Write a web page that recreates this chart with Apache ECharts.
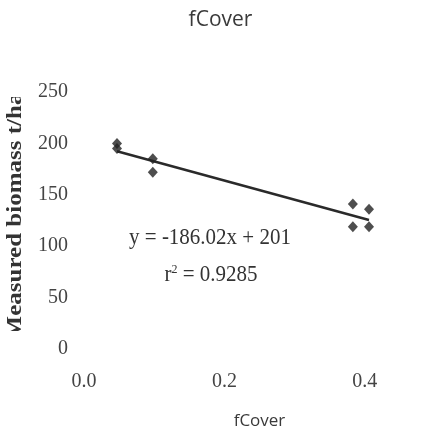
<!DOCTYPE html>
<html>
<head>
<meta charset="utf-8">
<script src="https://cdn.jsdelivr.net/npm/echarts@6/dist/echarts.min.js"></script>
<style>
  html, body { margin: 0; padding: 0; background: #fff; }
  #chart { width: 441px; height: 440px; }
</style>
</head>
<body>
<div id="chart"></div>
<script>
// Field plots: fractional cover vs measured biomass
const fCoverValues = [0.047, 0.047, 0.098, 0.098, 0.383, 0.406, 0.383, 0.406];
const biomassValues = [200, 195, 185, 172, 141, 136, 119, 119];

// Linear fit y = -186.02x + 201, drawn across the sampled range
const trendX = [0.047, 0.406];
const trendY = [192.3, 125.5];

const equationText = 'y = -186.02x + 201';
const rSquaredText = 'r{sup|2} = 0.9285';
const yAxisTitle = 'Measured biomass t/ha';

const points = fCoverValues.map((x, i) => [x, biomassValues[i]]);
const trend = trendX.map((x, i) => [x, trendY[i]]);

const serif = '"Liberation Serif", "DejaVu Serif", serif';
const chart = echarts.init(document.getElementById('chart'));

chart.setOption({
  animation: false,
  backgroundColor: '#ffffff',
  title: {
    text: 'fCover',
    left: 'center',
    top: 5,
    textStyle: { fontFamily: '"Open Sans", sans-serif', fontWeight: 'normal', fontSize: 21, color: '#3a3a3a' }
  },
  grid: { left: 84, right: 6, top: 92, bottom: 91, containLabel: false },
  xAxis: {
    type: 'value',
    min: 0, max: 0.5, interval: 0.2,
    name: 'fCover',
    nameLocation: 'middle',
    nameGap: 64,
    nameTextStyle: { fontFamily: '"Open Sans", sans-serif', fontSize: 17, color: '#3a3a3a' },
    axisLine: { show: false },
    axisTick: { show: false },
    splitLine: { show: false },
    axisLabel: {
      showMaxLabel: false,
      margin: 23,
      fontFamily: serif, fontSize: 20, color: '#444',
      formatter: v => v.toFixed(1)
    }
  },
  yAxis: {
    type: 'value',
    min: 0, max: 250, interval: 50,
    axisLine: { show: false },
    axisTick: { show: false },
    splitLine: { show: false },
    axisLabel: { margin: 16, fontFamily: serif, fontSize: 20, color: '#444' }
  },
  series: [
    {
      type: 'line',
      data: trend,
      symbol: 'none',
      lineStyle: { color: '#2a2a2a', width: 2.5 },
      z: 2
    },
    {
      type: 'scatter',
      data: points,
      symbol: 'diamond',
      symbolSize: [10, 11],
      itemStyle: { color: '#222' },
      z: 3
    }
  ],
  graphic: [
    // vertical axis title, trimmed at both ends by the label band
    {
      type: 'text', x: 16, y: 216, rotation: Math.PI / 2, scaleY: 0.8, z: 10,
      style: { text: yAxisTitle, font: 'bold 25px ' + serif, fill: '#333', align: 'center', verticalAlign: 'middle' }
    },
    { type: 'rect', z: 20, shape: { x: 0, y: 0, width: 32, height: 97 }, style: { fill: '#fff' } },
    { type: 'rect', z: 20, shape: { x: 0, y: 331, width: 32, height: 109 }, style: { fill: '#fff' } },
    {
      type: 'text', x: 210, y: 238, scaleY: 1.12,
      style: { text: equationText, font: '21px ' + serif, fill: '#333', align: 'center', verticalAlign: 'middle' }
    },
    {
      type: 'text', x: 211, y: 275, scaleY: 1.12,
      style: {
        text: rSquaredText,
        font: '21px ' + serif,
        fill: '#333',
        align: 'center',
        verticalAlign: 'middle',
        rich: { sup: { fontSize: 12, verticalAlign: 'top', padding: [0, 0, 10, 0], fontFamily: serif } }
      }
    }
  ]
});
</script>
</body>
</html>
